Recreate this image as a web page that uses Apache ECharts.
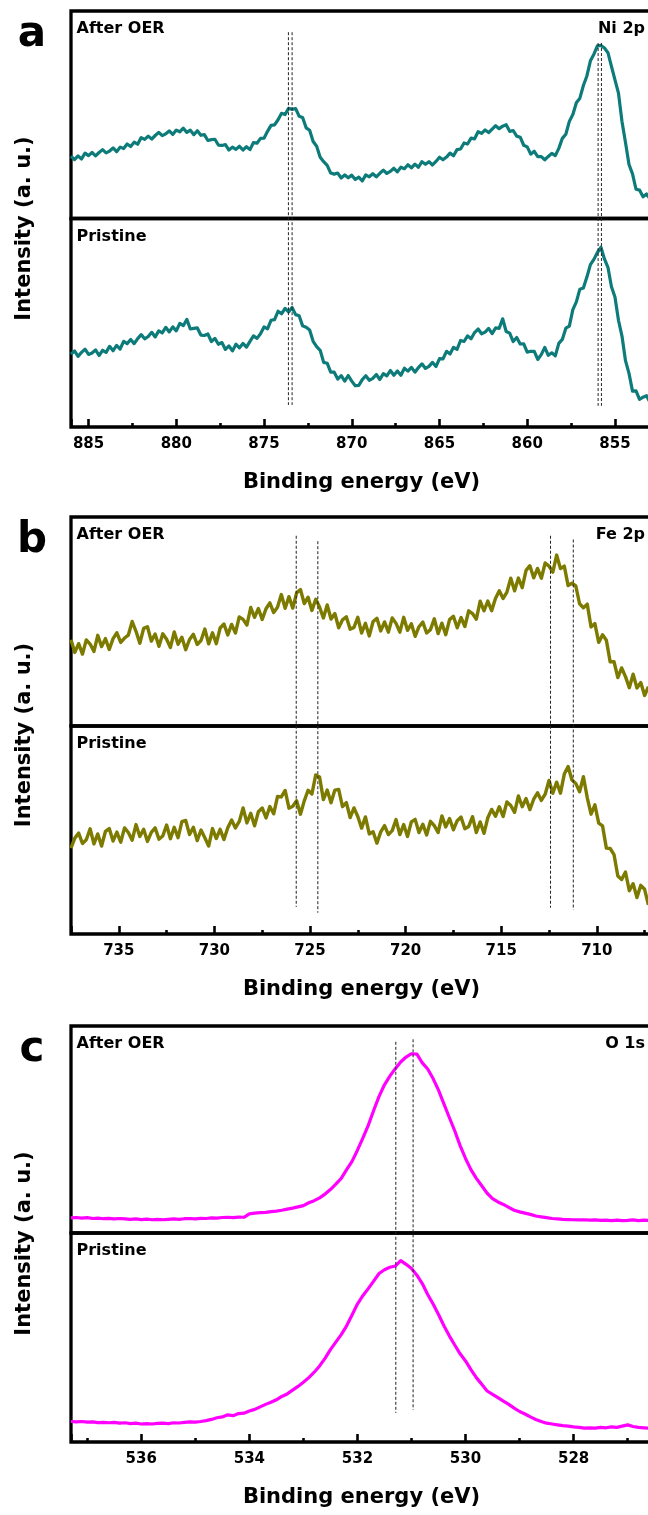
<!DOCTYPE html>
<html>
<head>
<meta charset="utf-8">
<script src="https://cdn.jsdelivr.net/npm/echarts@6/dist/echarts.min.js"></script>
<style>
html,body{margin:0;padding:0;background:#fff}
#chart{width:648px;height:1515px}
</style>
</head>
<body>
<div id="chart"></div>
<script>
// ---------- Ni 2p spectra (binding energy in eV, intensity in a.u.) ----------
const niEnergy = [886.0,885.8,885.6,885.4,885.2,885.0,884.8,884.6,884.4,884.2,
884.0,883.8,883.6,883.4,883.2,883.0,882.8,882.6,882.4,882.2,
882.0,881.8,881.6,881.4,881.2,881.0,880.8,880.6,880.4,880.2,
880.0,879.8,879.6,879.4,879.2,879.0,878.8,878.6,878.4,878.2,
878.0,877.8,877.6,877.4,877.2,877.0,876.8,876.6,876.4,876.2,
876.0,875.8,875.6,875.4,875.2,875.0,874.8,874.6,874.4,874.2,
874.0,873.8,873.6,873.4,873.2,873.0,872.8,872.6,872.4,872.2,
872.0,871.8,871.6,871.4,871.2,871.0,870.8,870.6,870.4,870.2,
870.0,869.8,869.6,869.4,869.2,869.0,868.8,868.6,868.4,868.2,
868.0,867.8,867.6,867.4,867.2,867.0,866.8,866.6,866.4,866.2,
866.0,865.8,865.6,865.4,865.2,865.0,864.8,864.6,864.4,864.2,
864.0,863.8,863.6,863.4,863.2,863.0,862.8,862.6,862.4,862.2,
862.0,861.8,861.6,861.4,861.2,861.0,860.8,860.6,860.4,860.2,
860.0,859.8,859.6,859.4,859.2,859.0,858.8,858.6,858.4,858.2,
858.0,857.8,857.6,857.4,857.2,857.0,856.8,856.6,856.4,856.2,
856.0,855.8,855.6,855.4,855.2,855.0,854.8,854.6,854.4,854.2,
854.0,853.8,853.6,853.4,853.2,853.0];
const niAfter = [30.0,28.4,30.2,28.7,31.5,30.3,31.8,30.2,31.8,33.2,
31.6,32.5,34.0,32.2,34.4,33.7,35.9,34.7,36.8,35.8,
39.0,38.1,39.7,38.3,40.0,41.5,39.9,40.8,42.2,40.5,
42.6,41.8,43.5,41.5,42.6,40.4,42.3,40.1,40.4,37.6,
38.0,38.2,35.4,35.2,35.6,33.0,34.4,33.3,34.8,33.0,
34.6,33.2,36.6,36.3,38.6,38.7,42.0,44.9,45.1,47.6,
50.7,50.1,53.1,52.6,53.0,49.3,48.7,43.7,42.5,37.1,
34.8,29.5,27.4,25.6,21.9,21.4,21.9,19.5,21.0,19.6,
20.9,18.8,19.9,18.1,21.0,20.1,21.6,20.1,21.8,23.3,
21.7,22.7,24.2,22.5,24.7,24.0,25.9,24.4,26.2,24.7,
27.4,26.1,27.4,25.8,27.5,29.5,28.3,29.6,31.5,30.2,
33.2,33.5,36.4,35.9,38.7,38.4,41.8,41.0,42.7,41.4,
43.1,44.7,43.3,44.5,45.2,42.0,42.4,39.7,39.2,35.3,
34.5,31.0,32.4,29.8,29.8,28.3,29.9,31.4,30.3,33.8,
38.6,40.6,46.8,50.1,55.8,58.0,64.1,68.7,76.0,79.2,
83.2,83.4,82.2,79.9,73.3,66.8,60.4,46.8,36.6,26.0,
21.5,14.1,13.7,10.5,11.8,9.5];
const niPristine = [34.9,36.5,33.9,35.8,37.3,34.8,35.5,37.0,34.3,36.8,
35.8,38.7,36.6,39.1,37.4,41.1,40.0,42.0,40.0,42.4,
44.3,42.3,43.4,45.4,43.2,46.1,45.1,47.8,45.6,48.0,
46.1,49.7,48.6,51.6,47.0,47.3,47.5,44.1,43.9,44.6,
41.0,42.5,39.7,40.5,37.2,38.9,36.5,39.7,38.0,40.1,
38.3,41.1,43.7,42.5,44.7,48.0,47.1,51.2,51.5,55.5,
54.3,56.9,55.2,57.3,53.9,53.4,48.5,47.8,46.5,41.1,
38.5,36.8,31.0,30.6,26.3,26.3,23.0,24.6,22.0,24.7,
22.0,19.8,20.0,22.7,24.6,22.4,23.3,25.2,22.8,25.6,
24.5,27.1,24.8,26.9,24.8,28.2,26.8,28.6,26.3,28.5,
30.3,28.1,29.1,31.0,29.0,32.8,32.7,36.3,35.0,38.2,
37.2,41.5,41.0,43.7,42.3,45.3,47.0,44.7,45.5,47.3,
44.8,47.5,47.3,51.9,45.8,45.0,41.0,42.9,39.8,39.9,
35.9,36.3,36.3,32.4,34.7,38.2,34.4,35.6,34.1,40.1,
42.0,47.4,48.4,56.3,60.0,66.1,66.7,71.9,77.9,80.4,
83.7,86.2,80.6,76.6,67.3,62.3,51.2,43.6,31.8,25.7,
17.2,17.3,13.3,14.3,15.0,11.7];
const niPeakLines = [873.61, 873.40, 855.96, 855.77];

// ---------- Fe 2p spectra ----------
const feEnergy = [737.5,737.3,737.1,736.9,736.7,736.5,736.3,736.1,735.9,735.7,
735.5,735.3,735.1,734.9,734.7,734.5,734.3,734.1,733.9,733.7,
733.5,733.3,733.1,732.9,732.7,732.5,732.3,732.1,731.9,731.7,
731.5,731.3,731.1,730.9,730.7,730.5,730.3,730.1,729.9,729.7,
729.5,729.3,729.1,728.9,728.7,728.5,728.3,728.1,727.9,727.7,
727.5,727.3,727.1,726.9,726.7,726.5,726.3,726.1,725.9,725.7,
725.5,725.3,725.1,724.9,724.7,724.5,724.3,724.1,723.9,723.7,
723.5,723.3,723.1,722.9,722.7,722.5,722.3,722.1,721.9,721.7,
721.5,721.3,721.1,720.9,720.7,720.5,720.3,720.1,719.9,719.7,
719.5,719.3,719.1,718.9,718.7,718.5,718.3,718.1,717.9,717.7,
717.5,717.3,717.1,716.9,716.7,716.5,716.3,716.1,715.9,715.7,
715.5,715.3,715.1,714.9,714.7,714.5,714.3,714.1,713.9,713.7,
713.5,713.3,713.1,712.9,712.7,712.5,712.3,712.1,711.9,711.7,
711.5,711.3,711.1,710.9,710.7,710.5,710.3,710.1,709.9,709.7,
709.5,709.3,709.1,708.9,708.7,708.5,708.3,708.1,707.9,707.7,
707.5,707.3];
const feAfter = [41.3,35.2,39.4,34.4,41.2,39.2,35.7,43.4,38.0,41.8,
36.6,41.8,44.6,40.0,42.1,43.5,50.0,45.3,39.6,46.7,
47.5,40.6,44.0,38.1,44.1,41.5,37.6,45.0,39.1,42.5,
36.5,41.4,43.9,39.0,40.9,46.4,39.3,44.6,39.4,46.9,
48.8,43.6,48.6,44.5,52.2,51.0,48.3,56.7,52.0,56.2,
51.0,56.1,58.9,54.3,56.8,62.9,56.3,61.9,56.4,63.7,
65.3,58.6,61.6,55.3,60.6,56.9,51.7,57.9,51.2,53.8,
47.0,50.8,52.3,46.3,47.2,52.0,44.5,49.1,43.1,50.0,
51.5,45.5,49.8,44.9,51.7,49.1,44.9,52.0,45.8,48.9,
42.9,47.5,49.7,44.5,46.1,51.3,44.2,49.2,43.7,50.9,
52.5,47.0,51.9,47.6,55.1,53.8,51.1,59.7,55.1,59.8,
55.2,61.0,64.7,61.0,64.1,70.7,64.7,70.8,66.2,74.5,
76.7,70.9,75.4,70.7,78.0,76.5,73.6,81.8,75.3,76.5,
67.2,68.3,67.0,58.5,56.6,58.3,47.4,49.0,40.0,43.7,
41.0,30.7,30.8,23.2,27.8,23.6,18.3,24.8,18.2,20.8,
14.6,18.8];
const fePristine = [41.3,46.1,48.5,43.5,45.3,50.6,43.3,48.1,42.3,49.3,
50.7,44.7,49.0,44.1,51.0,48.8,45.1,52.6,46.9,50.4,
44.5,48.9,51.0,45.6,47.1,52.4,45.8,51.3,46.3,54.0,
54.6,47.8,51.3,44.9,50.0,46.3,42.3,50.7,45.9,50.3,
45.4,51.1,54.8,51.0,54.1,60.6,53.4,58.0,52.0,58.8,
60.6,55.8,61.3,57.8,66.1,65.9,69.0,60.5,61.4,64.1,
57.6,64.0,69.1,67.3,76.5,75.5,64.6,69.2,63.1,69.2,
69.5,61.2,63.2,56.0,60.6,56.5,50.9,56.3,48.1,49.2,
43.7,49.1,52.1,47.8,49.7,55.0,47.8,52.6,46.9,53.9,
55.1,48.8,52.8,47.6,54.2,52.1,48.8,56.8,51.5,55.5,
50.1,54.5,56.2,50.6,51.7,56.4,48.8,53.9,48.4,55.9,
59.9,56.6,61.2,56.5,63.5,61.8,58.5,66.4,61.2,65.1,
59.8,64.8,67.9,64.2,67.2,73.8,67.7,73.0,67.7,76.9,
80.5,74.0,72.4,68.4,75.6,65.6,57.6,62.1,53.3,52.0,
41.3,41.1,38.2,27.9,26.2,29.8,20.8,24.2,17.5,23.4,
21.5,14.0];
const fePeakLines = [725.72, 724.59, 712.42, 711.23];

// ---------- O 1s spectra ----------
const oEnergy = [537.3,537.2,537.1,537.0,536.9,536.8,536.7,536.6,536.5,536.4,
536.3,536.2,536.1,536.0,535.9,535.8,535.7,535.6,535.5,535.4,
535.3,535.2,535.1,535.0,534.9,534.8,534.7,534.6,534.5,534.4,
534.3,534.2,534.1,534.0,533.9,533.8,533.7,533.6,533.5,533.4,
533.3,533.2,533.1,533.0,532.9,532.8,532.7,532.6,532.5,532.4,
532.3,532.2,532.1,532.0,531.9,531.8,531.7,531.6,531.5,531.4,
531.3,531.2,531.1,531.0,530.9,530.8,530.7,530.6,530.5,530.4,
530.3,530.2,530.1,530.0,529.9,529.8,529.7,529.6,529.5,529.4,
529.3,529.2,529.1,529.0,528.9,528.8,528.7,528.6,528.5,528.4,
528.3,528.2,528.1,528.0,527.9,527.8,527.7,527.6,527.5,527.4,
527.3,527.2,527.1,527.0,526.9,526.8,526.7,526.6];
const oAfter = [7.3,7.5,7.2,7.4,7.0,7.2,6.9,7.1,6.8,7.0,
6.8,6.6,6.8,6.5,6.7,6.4,6.6,6.4,6.6,6.8,
6.6,6.9,7.0,6.8,7.1,7.0,7.3,7.2,7.5,7.6,
7.4,7.7,7.6,9.2,9.6,9.8,10.0,10.3,10.6,11.0,
11.5,12.0,12.6,13.2,14.6,15.6,17.0,18.8,21.0,23.6,
26.4,30.6,34.6,40.0,45.8,52.0,59.2,66.0,71.6,75.8,
79.4,82.6,85.0,86.6,86.4,82.2,79.2,74.6,69.0,62.4,
55.8,49.4,42.2,36.0,30.6,26.4,22.8,19.2,16.6,15.0,
13.8,12.4,11.0,10.2,9.6,9.0,8.2,7.8,7.4,7.0,
6.8,6.6,6.5,6.4,6.3,6.4,6.2,6.3,6.1,6.2,
6.0,6.2,6.0,6.1,6.3,6.0,6.2,6.1];
const oPristine = [9.8,9.6,9.8,9.5,9.6,9.3,9.4,9.2,9.4,9.0,
9.2,8.8,9.0,8.6,8.8,8.6,8.9,9.0,8.8,9.2,
9.1,9.4,9.6,9.5,9.8,10.2,10.8,11.6,12.0,13.0,
12.6,13.6,13.8,14.8,15.6,16.8,18.0,19.0,20.2,21.8,
23.0,24.8,26.6,28.6,30.8,33.4,36.4,40.0,44.2,47.8,
51.4,55.6,60.8,66.0,70.0,73.4,77.0,80.6,82.4,83.6,
84.2,86.8,85.0,83.0,79.8,75.8,70.6,66.0,61.0,55.6,
50.8,46.4,42.2,38.8,34.6,30.8,27.6,24.4,22.8,21.2,
19.6,18.0,16.2,14.6,13.4,12.0,10.8,9.8,9.0,8.6,
8.2,7.8,7.6,7.2,7.0,6.6,6.8,6.6,7.0,6.8,
7.2,7.0,7.6,8.2,7.4,7.0,6.8,6.6];
const oPeakLines = [531.29, 530.97];

const panelLetters = ['a', 'b', 'c'];
const coreLevels = ['Ni 2p', 'Fe 2p', 'O 1s'];
const stateNames = ['After OER', 'Pristine'];
const xTitle = 'Binding energy (eV)';
const yTitle = 'Intensity (a. u.)';

// ---------- layout ----------
const FONT = '"DejaVu Sans", "Liberation Sans", sans-serif';
const LEFT = 71;
const panels = [
  { energy: niEnergy, after: niAfter, pristine: niPristine, peaks: niPeakLines,
    color: '#0d7b79', lineWidth: 3.2, xMin: 850, xMax: 886, interval: 5, width: 631.7,
    top: 11, sep: 218.5, bottom: 427,
    peakTop: [94.9, 94.9, 92.3, 92.3], peakBottom: [5.3, 5.3, 5.1, 5.1] },
  { energy: feEnergy, after: feAfter, pristine: fePristine, peaks: fePeakLines,
    color: '#7d7a00', lineWidth: 3.4, xMin: 705, xMax: 737.5, interval: 5, width: 621.4,
    top: 517, sep: 726, bottom: 934,
    peakTop: [95.5, 94.2, 95.5, 94.6], peakBottom: [6.5, 5.1, 6.3, 5.8] },
  { energy: oEnergy, after: oAfter, pristine: oPristine, peaks: oPeakLines,
    color: '#ff00ff', lineWidth: 3.2, xMin: 526, xMax: 537.3, interval: 2, width: 610.7,
    top: 1026, sep: 1233, bottom: 1442,
    peakTop: [96.2, 96.8], peakBottom: [7.0, 7.7] }
];

function onTick(v, step) {
  const r = v / step;
  return Math.abs(r - Math.round(r)) < 1e-6;
}

const grid = [], xAxis = [], yAxis = [], series = [], graphic = [];

panels.forEach((p, k) => {
  const g0 = k * 3;
  const frame = { show: true, borderColor: '#000', borderWidth: 3.3, backgroundColor: 'transparent', outerBoundsMode: 'none' };
  grid.push(Object.assign({ left: LEFT, top: p.top, width: p.width, height: p.sep - p.top }, frame));
  grid.push(Object.assign({ left: LEFT, top: p.sep, width: p.width, height: p.bottom - p.sep }, frame));
  grid.push({ show: false, left: LEFT, top: p.top, width: p.width, height: p.bottom - p.top, outerBoundsMode: 'none' });

  for (let g = 0; g < 3; g++) {
    xAxis.push({
      gridIndex: g0 + g, type: 'value', inverse: true,
      min: p.xMin, max: p.xMax, interval: p.interval,
      show: g === 1,
      axisLine: { show: false },
      splitLine: { show: false },
      axisTick: { show: true, inside: true, length: 8, lineStyle: { color: '#000', width: 2.6 } },
      minorTick: { show: true, splitNumber: 2, length: 4, lineStyle: { color: '#000', width: 2.6 } },
      axisLabel: {
        margin: 10, color: '#000', fontFamily: FONT, fontWeight: 'bold', fontSize: 15,
        formatter: v => (onTick(v, p.interval) ? String(v) : '')
      }
    });
    yAxis.push({ gridIndex: g0 + g, type: 'value', min: 0, max: 100, show: false });
  }

  [p.after, p.pristine].forEach((vals, j) => {
    series.push({
      type: 'line', xAxisIndex: g0 + j, yAxisIndex: g0 + j,
      data: p.energy.map((e, i) => [e, vals[i]]),
      showSymbol: false, symbol: 'none', silent: true,
      lineStyle: { color: p.color, width: p.lineWidth, join: 'round' },
      itemStyle: { color: p.color }
    });
  });

  p.peaks.forEach((e, i) => {
    series.push({
      type: 'line', xAxisIndex: g0 + 2, yAxisIndex: g0 + 2,
      data: [[e, p.peakTop[i]], [e, p.peakBottom[i]]],
      showSymbol: false, symbol: 'none', silent: true, z: 3,
      lineStyle: { color: '#222', width: 1, type: [3, 2] }
    });
  });

  const txt = (x, y, text, size, align, extra) => Object.assign({
    type: 'text', x, y, silent: true,
    style: { text, fill: '#000', font: 'bold ' + size + 'px ' + FONT,
             textAlign: align, textVerticalAlign: 'middle', align, verticalAlign: 'middle' }
  }, extra || {});

  graphic.push(txt(32, p.top + 24, panelLetters[k], 42, 'center'));
  graphic.push(txt(76.5, p.top + 18, stateNames[0], 16, 'left'));
  graphic.push(txt(76.5, p.sep + 18, stateNames[1], 16, 'left'));
  graphic.push(txt(645, p.top + 18, coreLevels[k], 16, 'right'));
  graphic.push(txt(361.5, p.bottom + 56, xTitle, 21, 'center'));
  graphic.push(txt(25, (p.top + p.bottom) / 2 + 9.5, yTitle, 21, 'center', { rotation: Math.PI / 2 }));
});

const chart = echarts.init(document.getElementById('chart'), null, { renderer: 'canvas' });
chart.setOption({
  animation: false,
  backgroundColor: '#fff',
  grid, xAxis, yAxis, series, graphic
});
</script>
</body>
</html>
